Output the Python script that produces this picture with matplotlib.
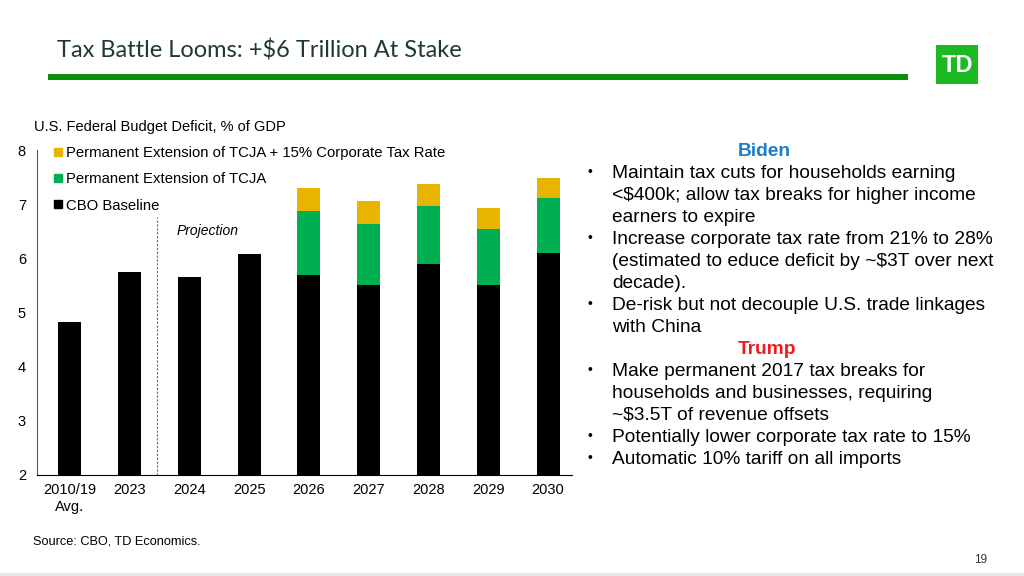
import matplotlib.pyplot as plt
from matplotlib.lines import Line2D
from matplotlib.patches import Rectangle
import numpy as np

# data (% of GDP)
years = ['2010/19\nAvg.', '2023', '2024', '2025', '2026', '2027', '2028', '2029', '2030']
cbo_baseline = [4.82, 5.74, 5.66, 6.08, 5.70, 5.50, 5.90, 5.50, 6.10]
tcja_ext = [0, 0, 0, 0, 1.17, 1.13, 1.07, 1.05, 1.01]
corp_15 = [0, 0, 0, 0, 0.43, 0.43, 0.41, 0.38, 0.38]

biden_lines = [
    ('Maintain tax cuts for households earning', True),
    ('<$400k; allow tax breaks for higher income', False),
    ('earners to expire', False),
    ('Increase corporate tax rate from 21% to 28%', True),
    ('(estimated to educe deficit by ~$3T over next', False),
    ('decade).', False),
    ('De-risk but not decouple U.S. trade linkages', True),
    ('with China', False),
]
trump_lines = [
    ('Make permanent 2017 tax breaks for', True),
    ('households and businesses, requiring', False),
    ('~$3.5T of revenue offsets', False),
    ('Potentially lower corporate tax rate to 15%', True),
    ('Automatic 10% tariff on all imports', True),
]

BLACK = '#000000'
GREEN = '#00B050'
GOLD = '#E8B400'

plt.rcParams['font.family'] = ['Liberation Sans', 'DejaVu Sans']

fig = plt.figure(figsize=(10.24, 5.76), dpi=100)
W, H = 1024, 576

def fx(px):
    return px / W

def fy(py):
    return 1 - py / H

# header
fig.text(fx(57), fy(51), 'Tax Battle Looms: +$6 Trillion At Stake', fontsize=17,
         family=['Lato', 'DejaVu Sans'], color='#1F3A33', va='center', ha='left')
fig.add_artist(Rectangle((fx(48), fy(80)), fx(908) - fx(48), 6 / H, transform=fig.transFigure,
                         color='#0A8F0A', lw=0))
fig.add_artist(Rectangle((fx(936), fy(84)), fx(978) - fx(936), 39 / H, transform=fig.transFigure,
                         color='#1DB920', lw=0))
fig.text(fx(957), fy(65), 'TD', fontsize=17, fontweight='bold', color='white',
         ha='center', va='center', family=['Liberation Sans Narrow', 'Liberation Sans'])

# chart
x = np.arange(len(years))
ax = fig.add_axes([fx(37), fy(475), fx(572) - fx(37), (475 - 150) / H])
w = 0.385
ax.bar(x, cbo_baseline, w, color=BLACK, bottom=0, zorder=2)
ax.bar(x, tcja_ext, w, bottom=cbo_baseline, color=GREEN, zorder=2)
top2 = np.array(cbo_baseline) + np.array(tcja_ext)
ax.bar(x, corp_15, w, bottom=top2, color=GOLD, zorder=2)

ax.set_ylim(2, 8)
ax.set_xlim(-0.55, 8.4)
ax.set_yticks(range(2, 9))
ax.set_xticks(x)
ax.set_xticklabels(years, fontsize=10.5, linespacing=1.2)
ax.tick_params(axis='y', length=0, pad=8, labelsize=10.5)
ax.tick_params(axis='x', length=0, pad=6)
for s in ['top', 'right']:
    ax.spines[s].set_visible(False)
ax.spines['left'].set_color('#555555')
ax.spines['bottom'].set_color('#000000')

ax.vlines(1.45, 2, 6.76, colors='#666666', linestyles=(0, (2, 1.5)), lw=0.8)
ax.text(2.3, 6.5, 'Projection', fontsize=10, style='italic', ha='center', va='center')

handles = [
    Line2D([], [], marker='s', ls='', color=GOLD, markersize=6),
    Line2D([], [], marker='s', ls='', color=GREEN, markersize=6),
    Line2D([], [], marker='s', ls='', color=BLACK, markersize=6),
]
labels = ['Permanent Extension of TCJA + 15% Corporate Tax Rate',
          'Permanent Extension of TCJA', 'CBO Baseline']
ax.legend(handles, labels, loc='upper left', bbox_to_anchor=(0.031, 1.012), frameon=False,
          fontsize=10.75, handlelength=0.6, handletextpad=0.2, labelspacing=0.82,
          borderaxespad=0, borderpad=0)

fig.text(fx(34), fy(127), 'U.S. Federal Budget Deficit, % of GDP', fontsize=10.5,
         va='center', ha='left')
fig.text(fx(33), fy(541), 'Source: CBO, TD Economics.', fontsize=9.2, va='center', ha='left')
fig.text(fx(981), fy(560), '19', fontsize=8.5, va='center', ha='center', color='#333333')
fig.add_artist(Rectangle((0, 0), 1, 3 / H, transform=fig.transFigure, color='#E4E8EC', lw=0))

# right-hand text
line_h = 22
y0 = 150
fig.text(fx(764), fy(y0 + 1), 'Biden', fontsize=13.8, fontweight='bold', color='#1B7CC9',
         ha='center', va='center')
yy = y0
for txt, bullet in biden_lines:
    yy += line_h
    if bullet:
        fig.text(fx(587), fy(yy), '•', fontsize=10, ha='left', va='center')
    fig.text(fx(612), fy(yy + 1), txt, fontsize=13.8, ha='left', va='center')
yy += line_h
fig.text(fx(767), fy(yy + 1), 'Trump', fontsize=13.8, fontweight='bold', color='#EE1C1C',
         ha='center', va='center')
for txt, bullet in trump_lines:
    yy += line_h
    if bullet:
        fig.text(fx(587), fy(yy), '•', fontsize=10, ha='left', va='center')
    fig.text(fx(612), fy(yy + 1), txt, fontsize=13.8, ha='left', va='center')

fig.savefig('out.png', dpi=100)
